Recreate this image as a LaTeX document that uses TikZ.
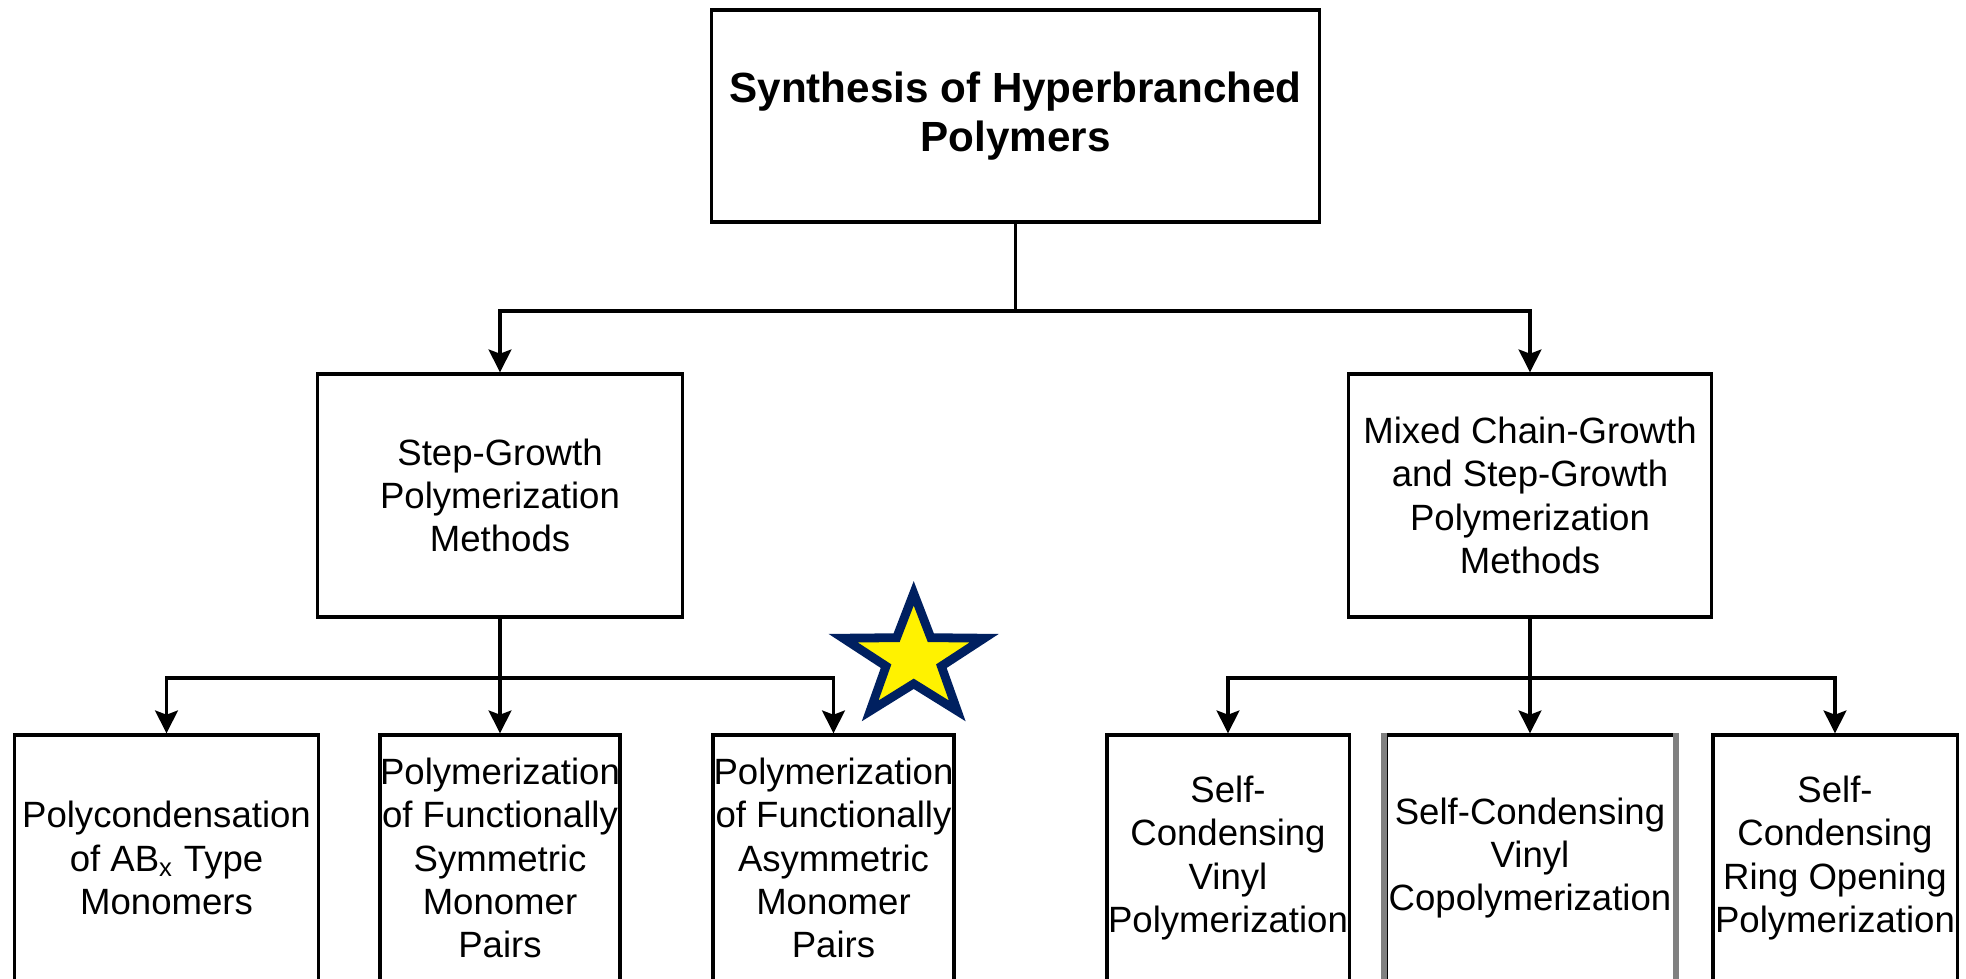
\documentclass[tikz,border=0pt]{standalone}
\usepackage{fontspec}
\setmainfont{Liberation Sans}
\usetikzlibrary{arrows.meta}

\definecolor{starblue}{RGB}{0,32,96}

\begin{document}
\begin{tikzpicture}[x=0.01cm, y=-0.01cm,
	box/.style={draw=black, line width=0.9pt, align=center, inner sep=0pt, font=\fontsize{10.4}{12.3}\selectfont},
	leaf/.style={box, minimum height=2.46cm},
	arr/.style={line width=0.9pt, -{Stealth[length=6.5pt, width=6.5pt, inset=1.2pt]}}]
	\clip (0,0) rectangle (1966,979);
	\node[box, minimum width=6.07cm, minimum height=2.12cm, font=\bfseries\fontsize{12}{14}\selectfont] (synth) at (1015.5,116) {Synthesis of Hyperbranched\\Polymers};
	\node[box, minimum width=3.64cm, minimum height=2.43cm] (step) at (500,495.5) {Step-Growth\\Polymerization\\Methods};
	\node[box, minimum width=3.62cm, minimum height=2.43cm] (mixed) at (1530,495.5) {Mixed Chain-Growth\\and Step-Growth\\Polymerization\\Methods};
	\coordinate (split) at (1015.5,311);
	\coordinate (stepsplit) at (500,678);
	\coordinate (mixsplit) at (1530,678);

	\node[leaf, minimum width=3.03cm] (abx) at (166.5,858) {Polycondensation\\of AB\textsubscript{x} Type\\Monomers};
	\node[leaf, minimum width=2.40cm] (sym) at (500,858) {Polymerization\\of Functionally\\Symmetric\\Monomer\\Pairs};
	\node[leaf, minimum width=2.41cm] (asym) at (833.5,858) {Polymerization\\of Functionally\\Asymmetric\\Monomer\\Pairs};
	\node[leaf, minimum width=2.42cm] (scvp) at (1228,858) {Self-\\Condensing\\Vinyl\\Polymerization};
	\node[leaf, minimum width=2.88cm] (scvc) at (1530,858) {Self-Condensing\\Vinyl\\Copolymerization};
	\node[leaf, minimum width=2.44cm] (scrop) at (1835,858) {Self-\\Condensing\\Ring Opening\\Polymerization};
	\draw[gray, line width=1.7pt] (scvc.north west) -- (scvc.south west) (scvc.north east) -- (scvc.south east);

	\draw[arr] (synth.south) -- (split) -| (step.north);
	\draw[arr] (split) -| (mixed.north);
	\draw[arr] (step.south) -- (stepsplit) -| (abx.north);
	\draw[arr] (stepsplit) -- (sym.north);
	\draw[arr] (stepsplit) -| (asym.north);
	\draw[arr] (mixed.south) -- (mixsplit) -| (scvp.north);
	\draw[arr] (mixsplit) -- (scvc.north);
	\draw[arr] (mixsplit) -| (scrop.north);

	% star next to the asymmetric pairs
	\begin{scope}[shift={(913.7,658.3)}, xscale=1.14, yscale=-1]
		\draw[starblue, fill=yellow, line width=2.5pt, line join=miter] (90:65)
			\foreach \k in {1,...,4} { -- (54+72*\k:25.5) -- (90+72*\k:65) } -- (54:25.5) -- cycle;
	\end{scope}
\end{tikzpicture}
\end{document}
